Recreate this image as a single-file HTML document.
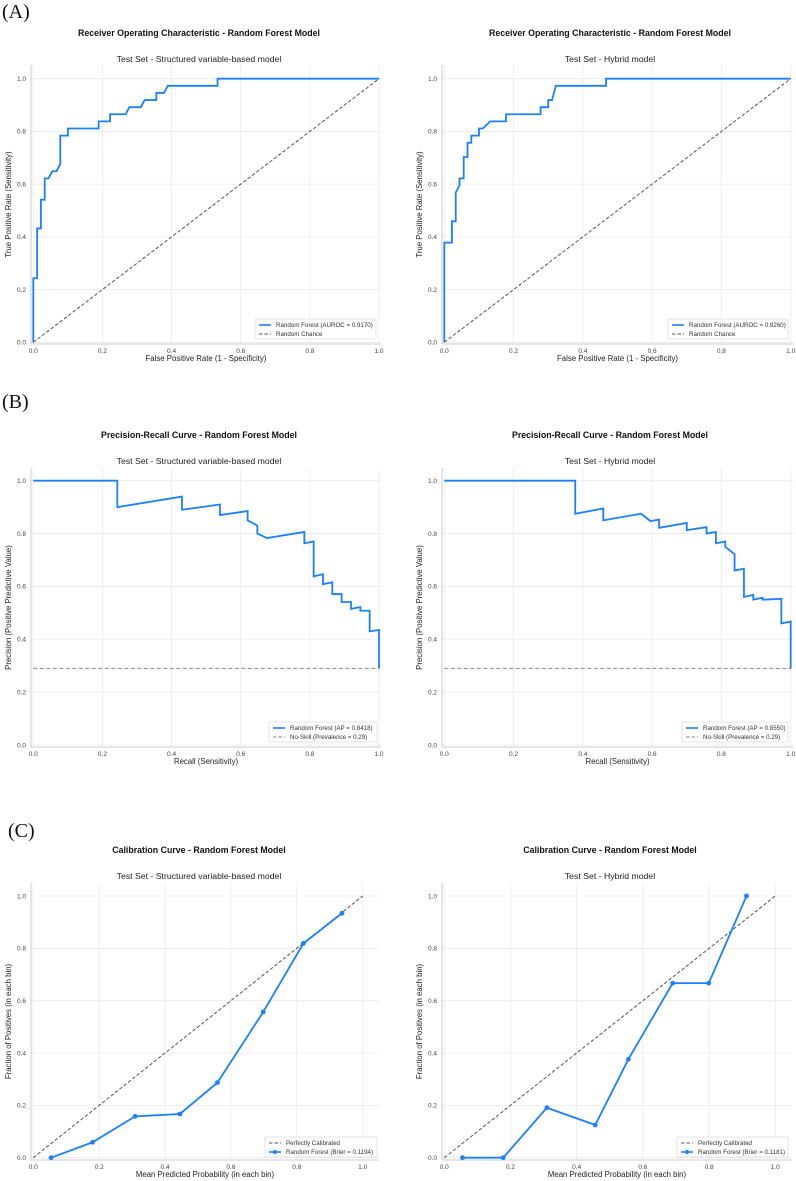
<!DOCTYPE html>
<html><head><meta charset="utf-8"><style>
html,body{margin:0;padding:0;background:#fff}
svg{display:block;font-family:"Liberation Sans",Arial,sans-serif}
</style></head><body>
<svg id="fig" width="796" height="1181" viewBox="0 0 796 1181">
<text x="2" y="18" font-family="Liberation Serif,serif" font-size="20" fill="#111">(A)</text>
<text x="2" y="408" font-family="Liberation Serif,serif" font-size="20" fill="#111">(B)</text>
<text x="8" y="837" font-family="Liberation Serif,serif" font-size="20" fill="#111">(C)</text>
</svg>
<script>
const ticks = [0, 0.2, 0.4, 0.6, 0.8, 1.0];
const tickLabels = ["0.0", "0.2", "0.4", "0.6", "0.8", "1.0"];
const rocLeftX = [0,0,0.011,0.011,0.022,0.022,0.033,0.033,0.044,0.055,0.067,0.078,0.078,0.1,0.1,0.189,0.189,0.222,0.222,0.267,0.278,0.311,0.322,0.356,0.356,0.378,0.389,0.533,0.533,1];
const rocLeftY = [0,0.243,0.243,0.432,0.432,0.541,0.541,0.622,0.622,0.649,0.649,0.676,0.784,0.784,0.811,0.811,0.838,0.838,0.865,0.865,0.892,0.892,0.919,0.919,0.946,0.946,0.973,0.973,1,1];
const rocRightX = [0,0,0.022,0.022,0.033,0.033,0.044,0.044,0.056,0.056,0.067,0.067,0.078,0.078,0.1,0.1,0.111,0.133,0.178,0.178,0.278,0.278,0.3,0.3,0.311,0.322,0.467,0.467,1];
const rocRightY = [0,0.378,0.378,0.459,0.459,0.568,0.595,0.622,0.622,0.703,0.703,0.757,0.757,0.784,0.784,0.811,0.811,0.838,0.838,0.865,0.865,0.892,0.892,0.919,0.919,0.973,0.973,1,1];
const prLeftX = [0,0.243,0.243,0.43,0.43,0.54,0.54,0.62,0.62,0.648,0.648,0.676,0.784,0.784,0.811,0.811,0.838,0.838,0.865,0.865,0.892,0.892,0.919,0.919,0.946,0.946,0.973,0.973,1,1];
const prLeftY = [1,1,0.9,0.94,0.89,0.91,0.87,0.885,0.85,0.83,0.8,0.783,0.806,0.763,0.77,0.638,0.646,0.608,0.616,0.571,0.571,0.541,0.541,0.515,0.522,0.508,0.508,0.43,0.435,0.29];
const prRightX = [0,0.378,0.378,0.459,0.459,0.568,0.595,0.62,0.62,0.7,0.7,0.757,0.757,0.784,0.784,0.811,0.811,0.838,0.838,0.865,0.865,0.892,0.892,0.919,0.919,0.973,0.973,1,1];
const prRightY = [1,1,0.875,0.895,0.85,0.875,0.847,0.853,0.822,0.84,0.813,0.824,0.8,0.806,0.763,0.77,0.75,0.722,0.66,0.667,0.56,0.568,0.55,0.557,0.55,0.553,0.46,0.467,0.29];
const prevalence = [0.29, 0.29];
const calLeftX = [0.054,0.18,0.309,0.445,0.559,0.698,0.82,0.937];
const calLeftY = [0,0.059,0.158,0.167,0.287,0.557,0.819,0.934];
const calRightX = [0.055,0.178,0.31,0.456,0.556,0.69,0.799,0.913];
const calRightY = [0,0,0.191,0.125,0.376,0.667,0.667,1.0];

const svg = document.getElementById('fig');
const NS = 'http://www.w3.org/2000/svg';
function mk(tag, attrs, parent){const e=document.createElementNS(NS,tag);for(const k in attrs)e.setAttribute(k,attrs[k]);(parent||svg).appendChild(e);return e;}
function txt(s, attrs, parent){const e=mk('text',attrs,parent);e.textContent=s;return e;}

function panel(p){
  const g = mk('g',{});
  
  
  const sx = v => p.x0 + v*(p.x1-p.x0);
  const sy = v => p.y0 - v*(p.y0-p.y1);
  const t1 = txt(p.title,{x:p.cx,y:p.ty,'text-anchor':'middle','font-size':'8.8','font-weight':'bold',fill:'#111'},g);
  
  
  const t2 = txt(p.sub,{x:p.cx,y:p.ty+26,'text-anchor':'middle','font-size':'8.7',fill:'#222'},g);
  
  
  ticks.forEach((t,i)=>{
    const gx = mk('line',{x1:sx(t),x2:sx(t),y1:p.top,y2:p.bottom,stroke:'#ebebeb','stroke-width':'0.8'},g);
    
    
    const gy = mk('line',{x1:p.left,x2:p.right,y1:sy(t),y2:sy(t),stroke:'#ebebeb','stroke-width':'0.8'},g);
    
    
    const xl = txt(tickLabels[i],{x:sx(t),y:p.bottom+9,'text-anchor':'middle','font-size':'6.5',fill:'#444'},g);
    
    
    const yl = txt(tickLabels[i],{x:p.left-5,y:sy(t)+2.3,'text-anchor':'end','font-size':'6.5',fill:'#444'},g);
    
    
  });
  const ls = mk('line',{x1:p.left,x2:p.left,y1:p.top,y2:p.bottom,stroke:'#ccc','stroke-width':'1'},g);
  
  
  const bs = mk('line',{x1:p.left,x2:p.right,y1:p.bottom,y2:p.bottom,stroke:'#ccc','stroke-width':'1'},g);
  
  
  const xt = txt(p.xlabel,{x:(p.left+p.right)/2,y:p.bottom+17,'text-anchor':'middle','font-size':'7.8',fill:'#222'},g);
  
  
  const ym = (p.top+p.bottom)/2, yx = p.left-20;
  const yt = txt(p.ylabel,{x:yx,y:ym,'text-anchor':'middle','font-size':'7.8',fill:'#222',transform:`rotate(-90 ${yx} ${ym})`},g);
  
  
  const ref = mk('polyline',{points:p.refX.map((v,i)=>sx(v)+','+sy(p.refY[i])).join(' '),fill:'none',stroke:p.refColor,'stroke-width':'1','stroke-dasharray':p.refDash},g);
  
  
  const line = mk('polyline',{points:p.dx.map((v,i)=>sx(v)+','+sy(p.dy[i])).join(' '),fill:'none',stroke:'#1a80ff','stroke-width':'1.8','stroke-linejoin':'miter'},g);
  
  
  if(p.markers){
    p.dx.forEach((v,i)=>{
      const c = mk('circle',{cx:sx(v),cy:sy(p.dy[i]),r:'2.4',fill:'#1a80ff'},g);
      
      
    });
  }
  const L = p.legend;
  const lg = mk('g',{},g);
  
  
  mk('rect',{x:L.x,y:L.y,width:L.w,height:20,fill:'#fff',stroke:'#ddd','stroke-width':'0.8',rx:'1'},lg);
  L.items.forEach((it,i)=>{
    const y = L.y+6+i*9;
    const e = mk('g',{},lg);
    
    
    if(it.dash){
      mk('line',{x1:L.x+4,x2:L.x+16,y1:y,y2:y,stroke:it.color,'stroke-width':'1','stroke-dasharray':'3.5,2'},e);
    } else {
      mk('line',{x1:L.x+4,x2:L.x+16,y1:y,y2:y,stroke:'#1a80ff','stroke-width':'1.6'},e);
      if(it.marker) mk('circle',{cx:L.x+10,cy:y,r:'2',fill:'#1a80ff'},e);
    }
    txt(it.label,{x:L.x+21,y:y+2.2,'font-size':'6.2',fill:'#333'},e);
  });
}

const rocTitle='Receiver Operating Characteristic - Random Forest Model';
const prTitle='Precision-Recall Curve - Random Forest Model';
const calTitle='Calibration Curve - Random Forest Model';
const subL='Test Set - Structured variable-based model', subR='Test Set - Hybrid model';

panel({name:'roc-structured-chart',title:rocTitle,sub:subL,cx:199,ty:36,x0:33.3,x1:379,y0:342.3,y1:78.7,left:31,right:381,top:65,bottom:344,
  xlabel:'False Positive Rate (1 - Specificity)',ylabel:'True Positive Rate (Sensitivity)',refX:[0,1],refY:[0,1],refColor:'#555',refDash:'3.5,2',
  dx:rocLeftX,dy:rocLeftY,legend:{x:255,y:319,w:121,items:[{label:'Random Forest (AUROC = 0.9170)'},{label:'Random Chance',dash:true,color:'#555'}]}});
panel({name:'roc-hybrid-chart',title:rocTitle,sub:subR,cx:610,ty:36,x0:444.3,x1:790.7,y0:342.3,y1:78.7,left:442,right:793,top:65,bottom:344,
  xlabel:'False Positive Rate (1 - Specificity)',ylabel:'True Positive Rate (Sensitivity)',refX:[0,1],refY:[0,1],refColor:'#555',refDash:'3.5,2',
  dx:rocRightX,dy:rocRightY,legend:{x:668,y:319,w:120,items:[{label:'Random Forest (AUROC = 0.9260)'},{label:'Random Chance',dash:true,color:'#555'}]}});
panel({name:'pr-structured-chart',title:prTitle,sub:subL,cx:199,ty:438,x0:33.3,x1:379,y0:745,y1:480.7,left:31,right:381,top:468,bottom:747,
  xlabel:'Recall (Sensitivity)',ylabel:'Precision (Positive Predictive Value)',refX:[0,1],refY:prevalence,refColor:'#888',refDash:'4,2.5',
  dx:prLeftX,dy:prLeftY,legend:{x:269,y:722,w:108,items:[{label:'Random Forest (AP = 0.8418)'},{label:'No-Skill (Prevalence = 0.29)',dash:true,color:'#888'}]}});
panel({name:'pr-hybrid-chart',title:prTitle,sub:subR,cx:610,ty:438,x0:444.3,x1:790.7,y0:745,y1:480.7,left:442,right:793,top:468,bottom:747,
  xlabel:'Recall (Sensitivity)',ylabel:'Precision (Positive Predictive Value)',refX:[0,1],refY:prevalence,refColor:'#888',refDash:'4,2.5',
  dx:prRightX,dy:prRightY,legend:{x:682,y:722,w:106,items:[{label:'Random Forest (AP = 0.8550)'},{label:'No-Skill (Prevalence = 0.29)',dash:true,color:'#888'}]}});
panel({name:'calibration-structured-chart',title:calTitle,sub:subL,cx:199,ty:853,x0:33.3,x1:362.7,y0:1157.7,y1:896,left:31,right:379,top:883,bottom:1160,
  xlabel:'Mean Predicted Probability (in each bin)',ylabel:'Fraction of Positives (in each bin)',refX:[0,1],refY:[0,1],refColor:'#555',refDash:'3.5,2',
  dx:calLeftX,dy:calLeftY,markers:true,legend:{x:265,y:1137,w:112,items:[{label:'Perfectly Calibrated',dash:true,color:'#555'},{label:'Random Forest (Brier = 0.1194)',marker:true}]}});
panel({name:'calibration-hybrid-chart',title:calTitle,sub:subR,cx:610,ty:853,x0:444.3,x1:775.3,y0:1157.7,y1:896,left:442,right:792,top:883,bottom:1160,
  xlabel:'Mean Predicted Probability (in each bin)',ylabel:'Fraction of Positives (in each bin)',refX:[0,1],refY:[0,1],refColor:'#555',refDash:'3.5,2',
  dx:calRightX,dy:calRightY,markers:true,legend:{x:677,y:1137,w:111,items:[{label:'Perfectly Calibrated',dash:true,color:'#555'},{label:'Random Forest (Brier = 0.1181)',marker:true}]}});
</script>
</body></html>
